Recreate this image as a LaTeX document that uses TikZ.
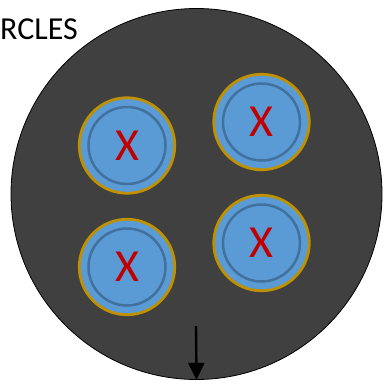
\documentclass[tikz,border=0pt]{standalone}
\usepackage{fontspec}
\setmainfont{Carlito}
\usetikzlibrary{arrows.meta}
\definecolor{bg}{HTML}{404040}
\definecolor{cblue}{HTML}{5B9BD5}
\definecolor{cgold}{HTML}{BF9000}
\definecolor{cinner}{HTML}{41719C}
\definecolor{cred}{HTML}{C00000}
\begin{document}
\begin{tikzpicture}[x=1pt,y=-1pt,
  outer/.style={circle,draw=cgold,line width=2.8pt,fill=cblue,minimum size=95.5pt,inner sep=0pt},
  innerc/.style={circle,draw=cinner,line width=2.5pt,minimum size=77pt,inner sep=0pt},
  xmark/.style={text=cred,font=\fontsize{46}{46}\selectfont,inner sep=0pt}]
\useasboundingbox (0,0) rectangle (386,391);
\node[circle,draw=black,line width=0.8pt,fill=bg,minimum size=371pt,inner sep=0pt] (big) at (196.5,194) {};
\node[anchor=base west,inner sep=0pt,font=\fontsize{32}{32}\selectfont] (title) at (0,39) {RCLES};
\foreach \n/\x/\y in {a/127/145.5, b/261.5/122, c/127/267, d/261.5/243}{
  \node[outer] (\n) at (\x,\y) {};
  \node[innerc] (\n i) at (\x,\y) {};
  \node[xmark] (\n x) at (\x,\y) {X};
}
\coordinate (astart) at (196,326);
\draw[line width=2.4pt,-{Triangle[length=17pt,width=16pt]}] (astart) -- (big.south);
\end{tikzpicture}
\end{document}
